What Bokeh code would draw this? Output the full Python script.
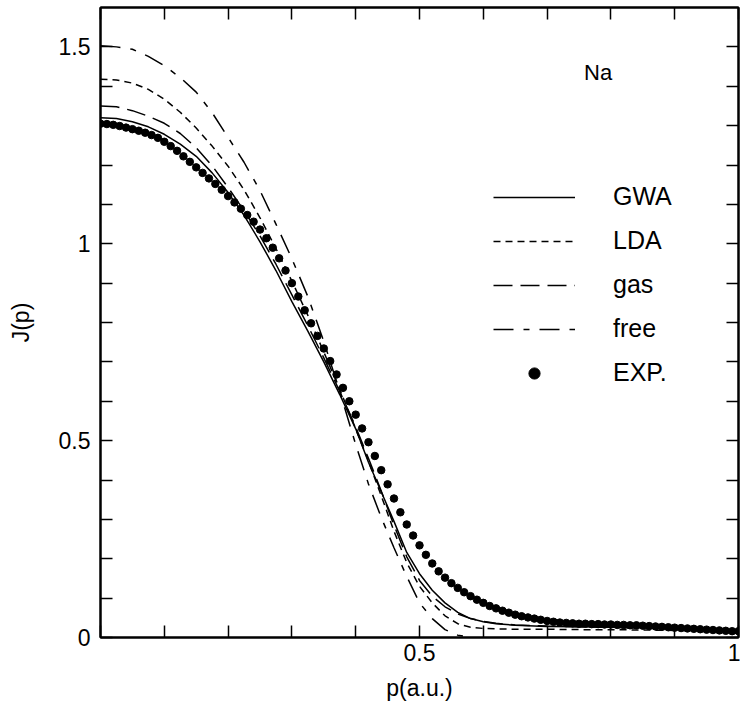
from bokeh.plotting import figure
from bokeh.models import (Range1d, LinearAxis, FixedTicker, Legend, LegendItem,
                          Label, CustomJSTickFormatter)
from bokeh.embed import file_html
from bokeh.resources import INLINE

FONT = "Liberation Sans"

# ---------------- data ----------------
p_curve = [0.000, 0.025, 0.050, 0.075, 0.100, 0.125, 0.150, 0.175, 0.200, 0.225,
           0.250, 0.275, 0.300, 0.325, 0.350, 0.375, 0.400, 0.420, 0.440, 0.460,
           0.480, 0.500, 0.520, 0.540, 0.560, 0.580, 0.600, 0.620, 0.650, 0.700,
           0.750, 0.800, 0.850, 0.900, 0.950, 1.000]

j_gwa = [1.320, 1.318, 1.310, 1.297, 1.278, 1.253, 1.222, 1.180, 1.130, 1.072,
         1.005, 0.932, 0.853, 0.778, 0.700, 0.617, 0.530, 0.445, 0.370, 0.295,
         0.216, 0.162, 0.120, 0.088, 0.064, 0.048, 0.040, 0.035, 0.031, 0.028,
         0.027, 0.026, 0.025, 0.022, 0.019, 0.016]

j_lda = [1.418, 1.416, 1.408, 1.392, 1.367, 1.334, 1.294, 1.248, 1.197, 1.137,
         1.066, 0.988, 0.905, 0.818, 0.725, 0.630, 0.530, 0.448, 0.360, 0.270,
         0.190, 0.130, 0.088, 0.055, 0.035, 0.026, 0.023, 0.022, 0.021, 0.021,
         0.020, 0.020, 0.019, 0.018, 0.017, 0.015]

j_gas = [1.350, 1.348, 1.338, 1.324, 1.306, 1.280, 1.244, 1.198, 1.143, 1.084,
         1.020, 0.948, 0.870, 0.792, 0.710, 0.625, 0.535, 0.455, 0.372, 0.285,
         0.205, 0.145, 0.105, 0.078, 0.060, 0.048, 0.041, 0.036, 0.032, 0.029,
         0.027, 0.026, 0.024, 0.022, 0.019, 0.016]

p_free = [0.000, 0.025, 0.050, 0.075, 0.100, 0.125, 0.150, 0.175, 0.200, 0.225,
          0.250, 0.275, 0.300, 0.325, 0.350, 0.375, 0.400, 0.420, 0.440, 0.460,
          0.480, 0.500, 0.520, 0.540, 0.560, 0.580]
j_free = [1.503, 1.500, 1.494, 1.476, 1.452, 1.422, 1.385, 1.333, 1.270, 1.207,
          1.135, 1.050, 0.962, 0.866, 0.752, 0.625, 0.490, 0.390, 0.305, 0.228,
          0.155, 0.088, 0.048, 0.020, 0.006, 0.001]

p_exp = [i / 100 for i in range(101)]
j_exp = [1.305, 1.304, 1.302, 1.299, 1.295, 1.291, 1.287, 1.282, 1.276, 1.269,
         1.259, 1.248, 1.236, 1.222, 1.208, 1.194, 1.180, 1.166, 1.152, 1.137,
         1.121, 1.105, 1.089, 1.073, 1.056, 1.036, 1.014, 0.990, 0.963, 0.932,
         0.900, 0.866, 0.831, 0.798, 0.766, 0.734, 0.702, 0.668, 0.634, 0.600,
         0.566, 0.531, 0.496, 0.461, 0.425, 0.389, 0.353, 0.318, 0.287, 0.259,
         0.234, 0.210, 0.188, 0.168, 0.152, 0.138, 0.126, 0.115, 0.105, 0.096,
         0.088, 0.080, 0.074, 0.068, 0.063, 0.058, 0.054, 0.051, 0.048, 0.045,
         0.042, 0.040, 0.038, 0.037, 0.036, 0.035, 0.035, 0.034, 0.034, 0.033,
         0.033, 0.032, 0.032, 0.031, 0.031, 0.030, 0.029, 0.028, 0.027, 0.026,
         0.025, 0.024, 0.023, 0.022, 0.021, 0.020, 0.019, 0.018, 0.017, 0.016, 0.016]

x_major = [0, 0.5, 1]
x_minor = [0.1, 0.2, 0.3, 0.4, 0.6, 0.7, 0.8, 0.9]
y_major = [0, 0.5, 1, 1.5]
y_minor = [0.1, 0.2, 0.3, 0.4, 0.6, 0.7, 0.8, 0.9, 1.1, 1.2, 1.3, 1.4]

series_labels = ["GWA", "LDA", "gas", "free", "EXP."]

# ---------------- figure ----------------
p = figure(width=740, height=714, output_backend="svg", toolbar_location=None,
           x_range=Range1d(0, 1), y_range=Range1d(0, 1.6),
           x_axis_location=None, y_axis_location=None,
           min_border_left=100, min_border_right=2, min_border_top=7,
           min_border_bottom=77)
p.grid.visible = False
p.outline_line_color = "black"
p.outline_line_width = 2
p.background_fill_color = "white"
p.border_fill_color = "white"


def make_axis(major, minor, code):
    ax = LinearAxis(ticker=FixedTicker(ticks=major, minor_ticks=minor),
                    formatter=CustomJSTickFormatter(code=code))
    ax.axis_line_color = "black"
    ax.axis_line_width = 2
    ax.major_tick_in = 12
    ax.major_tick_out = 0
    ax.minor_tick_in = 12
    ax.minor_tick_out = 0
    ax.major_tick_line_width = 1.5
    ax.minor_tick_line_width = 1.5
    ax.major_tick_line_color = "black"
    ax.minor_tick_line_color = "black"
    ax.major_label_text_font = FONT
    ax.major_label_text_font_size = "23px"
    ax.major_label_text_color = "black"
    ax.axis_label_text_font = FONT
    ax.axis_label_text_font_size = "23px"
    ax.axis_label_text_font_style = "normal"
    ax.axis_label_text_color = "black"
    return ax


bottom = make_axis(x_major, x_minor, "return tick == 0 ? '' : tick.toString();")
bottom.major_label_standoff = 6
bottom.axis_label = "p(a.u.)"
bottom.axis_label_standoff = 11
p.add_layout(bottom, "below")

left = make_axis(y_major, y_minor, "return tick.toString();")
left.major_label_standoff = 10
left.axis_label = "J(p)"
left.axis_label_standoff = 22
p.add_layout(left, "left")

top = make_axis(x_major, x_minor, "return '';")
top.major_label_standoff = 0
top.major_label_text_font_size = "0px"
p.add_layout(top, "above")

right = make_axis(y_major, y_minor, "return '';")
right.major_label_standoff = 0
right.major_label_text_font_size = "0px"
p.add_layout(right, "right")

# ---------------- curves ----------------
r_gwa = p.line(p_curve, j_gwa, line_color="black", line_width=1.5)
r_lda = p.line(p_curve, j_lda, line_color="black", line_width=1.5, line_dash="7 5")
r_gas = p.line(p_curve, j_gas, line_color="black", line_width=1.5, line_dash="19 8")
r_free = p.line(p_free, j_free, line_color="black", line_width=1.5,
                line_dash="20 10 6 10")
r_exp = p.scatter(p_exp, j_exp, marker="circle", size=7.5, fill_color="black",
                  line_color="black")

legend = Legend(items=[LegendItem(label=series_labels[0], renderers=[r_gwa]),
                       LegendItem(label=series_labels[1], renderers=[r_lda]),
                       LegendItem(label=series_labels[2], renderers=[r_gas]),
                       LegendItem(label=series_labels[3], renderers=[r_free]),
                       LegendItem(label=series_labels[4], renderers=[r_exp])],
                location=(393, 250))
legend.glyph_width = 82
legend.glyph_height = 28
legend.label_height = 28
legend.spacing = 15
legend.padding = 0
legend.margin = 0
legend.label_standoff = 38
legend.border_line_color = None
legend.background_fill_alpha = 0
legend.label_text_font = FONT
legend.label_text_font_size = "25px"
legend.label_text_color = "black"
p.add_layout(legend)

p.add_layout(Label(x=0.758, y=1.436, text="Na", text_font=FONT,
                   text_font_size="22px", text_color="black",
                   text_align="left", text_baseline="middle"))

open("out.html", "w").write(file_html(p, INLINE))
